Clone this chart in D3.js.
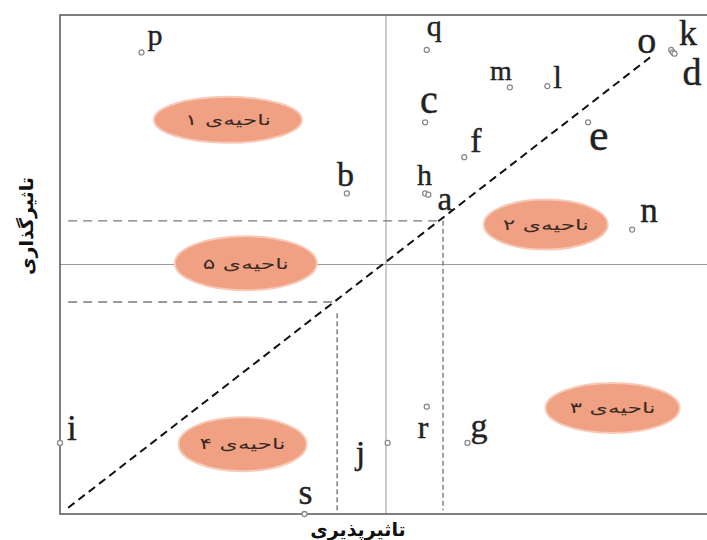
<!DOCTYPE html>
<html>
<head>
<meta charset="utf-8">
<script src="https://cdn.jsdelivr.net/npm/d3@7"></script>
<style>
  body { margin: 0; background: #fff; }
  .pt-label { font-family: "Liberation Serif", "DejaVu Serif", serif; fill: #222; stroke: #222; stroke-width: 0.4px; }
  .zone-label { font-family: "DejaVu Sans", sans-serif; font-size: 15px; fill: #3a2a22; }
  .axis-title { font-family: "DejaVu Sans", sans-serif; font-size: 19px; font-weight: bold; fill: #111; }
</style>
</head>
<body>
<svg id="chart" width="707" height="540"></svg>
<script>
// point names and their (influence-received, influence-given) values
var names   = ["p", "q", "o", "k", "d", "m", "l", "c", "f", "e", "h", "a", "b", "n", "i", "r", "g", "j", "s"];
var xValues = [0.50, 2.25, 3.75, 3.76, 3.77, 2.76, 2.99, 2.24, 2.48, 3.24, 2.24, 2.26, 1.76, 3.51, 0.00, 2.25, 2.50, 2.01, 1.50];
var yValues = [3.70, 3.72, 3.72, 3.70, 3.69, 3.42, 3.43, 3.14, 2.86, 3.14, 2.57, 2.56, 2.57, 2.28, 0.57, 0.86, 0.57, 0.57, 0.00];

// zones
var zoneNames = ["ناحیه\u200cی ۱", "ناحیه\u200cی ۵", "ناحیه\u200cی ۲", "ناحیه\u200cی ۳", "ناحیه\u200cی ۴"];
var zoneX = [1.03, 1.14, 2.98, 3.39, 1.12];
var zoneY = [3.16, 2.01, 2.32, 0.85, 0.56];

// threshold values for the dashed guides
var upperCut = 2.35;
var lowerCut = 1.70;
var midValue = 2;

var xTitle = "تاثیرپذیری";
var yTitle = "تاثیرگذاری";

var svg = d3.select("#chart");

var x = d3.scaleLinear().domain([0, 4]).range([60, 712]);
var y = d3.scaleLinear().domain([0, 4]).range([514, 15]);

// label placement (offset from marker, font size)
var labelStyle = {
    p: [6, -7, 30], q: [0, -14, 30], o: [-34, 3, 38], k: [6, -7, 36], d: [8, 31, 38],
    m: [-20, -7, 28], l: [6, 2, 31], c: [-5, -9, 40], f: [6, -5, 34], e: [1, 28, 44],
    h: [-8, -8, 30], a: [9, 15, 33], b: [-10, -7, 34], n: [8, -8, 35], i: [7, -3, 35],
    r: [-9, 31, 32], g: [3, -6, 34], j: [-32, 21, 34], s: [-6, -10, 36]
};

// grey mid lines
svg.append("line")
    .attr("x1", x(0)).attr("x2", 707)
    .attr("y1", y(midValue)).attr("y2", y(midValue))
    .style("stroke", "#9a9a9a").style("stroke-width", 1);
svg.append("line")
    .attr("x1", x(midValue)).attr("x2", x(midValue))
    .attr("y1", y(4)).attr("y2", y(0))
    .style("stroke", "#9a9a9a").style("stroke-width", 1);

// dashed threshold guides
function guide(x1, y1, x2, y2, dash) {
    svg.append("line")
        .attr("x1", x(x1)).attr("y1", y(y1))
        .attr("x2", x(x2)).attr("y2", y(y2))
        .style("stroke", "#7a7a7a")
        .style("stroke-width", 1.4)
        .style("stroke-dasharray", dash);
}
guide(0.05, upperCut, upperCut, upperCut, "9,6");
guide(upperCut, upperCut, upperCut, 0.03, "5,3");
guide(0.05, lowerCut, lowerCut, lowerCut, "9,6");
guide(lowerCut, 1.61, lowerCut, 0.03, "5,3");

// diagonal
svg.append("line")
    .attr("x1", x(0.05)).attr("y1", y(0.05))
    .attr("x2", x(3.62)).attr("y2", y(3.66))
    .style("stroke", "#111")
    .style("stroke-width", 2)
    .style("stroke-dasharray", "8,5");

// frame (left, top, bottom)
svg.append("path")
    .attr("d", "M707," + y(4) + "H" + x(0) + "V" + y(0) + "H707")
    .style("fill", "none")
    .style("stroke", "#555")
    .style("stroke-width", 1.5);

// zones
var zones = svg.append("g").selectAll("g")
    .data(zoneNames)
    .enter().append("g")
    .attr("transform", function(d, i) { return "translate(" + x(zoneX[i]) + "," + y(zoneY[i]) + ")"; });
zones.append("ellipse")
    .attr("rx", function(d, i) { return [74, 71, 62, 67, 64][i]; })
    .attr("ry", function(d, i) { return [23, 27, 25, 25, 27][i]; })
    .style("fill", "#f0a083")
    .style("stroke", "#f7c9b6")
    .style("stroke-width", 2);
zones.append("text")
    .attr("class", "zone-label")
    .attr("text-anchor", "middle")
    .attr("dy", "0.35em")
    .attr("direction", "rtl")
    .attr("textLength", 86)
    .attr("lengthAdjust", "spacingAndGlyphs")
    .text(function(d) { return d; });

// points
var pts = svg.append("g").selectAll("g")
    .data(names)
    .enter().append("g")
    .attr("transform", function(d, i) { return "translate(" + x(xValues[i]) + "," + y(yValues[i]) + ")"; });
pts.append("circle")
    .attr("r", 2.5)
    .style("fill", "#fff")
    .style("stroke", "#8a8a8a")
    .style("stroke-width", 1.3);
pts.append("text")
    .attr("class", "pt-label")
    .attr("x", function(d) { return labelStyle[d][0]; })
    .attr("y", function(d) { return labelStyle[d][1]; })
    .style("font-size", function(d) { return labelStyle[d][2] + "px"; })
    .text(function(d) { return d; });

// axis titles
svg.append("text")
    .attr("class", "axis-title")
    .attr("x", 358).attr("y", 536)
    .attr("text-anchor", "middle")
    .text(xTitle);
svg.append("text")
    .attr("class", "axis-title")
    .attr("transform", "translate(33,226) rotate(-90)")
    .attr("text-anchor", "middle")
    .style("font-size", "19px")
    .text(yTitle);
</script>
</body>
</html>
